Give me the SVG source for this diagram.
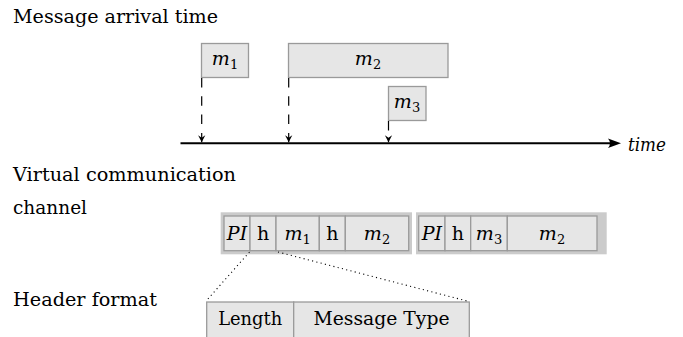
<svg xmlns="http://www.w3.org/2000/svg" width="683" height="337" viewBox="0 0 683 337">
<style>
.t{font-family:"DejaVu Serif","Liberation Serif",serif;font-size:19px;fill:#000}
.it{font-style:italic}
.c{text-anchor:middle}
.s{font-size:13px;font-style:normal}
.box{fill:#e6e6e6;stroke:#9a9a9a;stroke-width:1.3}
.cont{fill:#cbcbcb;stroke:none}
.axis{stroke:#000;stroke-width:2;fill:none}
.dash{stroke:#000;stroke-width:1.2;stroke-dasharray:9.5 8.8;fill:none}
.dot{stroke:#000;stroke-width:1.1;stroke-dasharray:1.1 3.3;fill:none}
</style>
<defs>
<marker id="ah" markerUnits="userSpaceOnUse" markerWidth="12" markerHeight="12" viewBox="-8 -6 10 12" refX="0" refY="0" orient="auto" overflow="visible">
<path d="M0,0 L-7,-3.6 L-4.6,0 L-7,3.6 Z" fill="#000"/>
</marker>
<marker id="ahBig" markerUnits="userSpaceOnUse" markerWidth="16" markerHeight="12" viewBox="-5 -6 16 12" refX="0" refY="0" orient="auto" overflow="visible">
<path d="M9,0 L-4,-4.8 Q0,0 -4,4.8 Z" fill="#000"/>
</marker>
</defs>

<g id="labels">
<text class="t" x="13" y="22.5" textLength="205" lengthAdjust="spacingAndGlyphs">Message arrival time</text>
<text class="t" x="13" y="180.5" textLength="223" lengthAdjust="spacingAndGlyphs">Virtual communication</text>
<text class="t" x="13" y="213.5" textLength="74" lengthAdjust="spacingAndGlyphs">channel</text>
<text class="t" x="13" y="306" textLength="144" lengthAdjust="spacingAndGlyphs">Header format</text>
<text class="t it" x="628" y="151" textLength="38" lengthAdjust="spacingAndGlyphs">time</text>
</g>

<g id="msg-m1">
<rect class="box" x="201.5" y="43.5" width="47" height="34"/>
<text class="t it c" x="225" y="64.5">m<tspan class="s" dy="4">1</tspan></text>
</g>
<g id="msg-m2">
<rect class="box" x="288.5" y="43.5" width="159.5" height="34"/>
<text class="t it c" x="368" y="64.5">m<tspan class="s" dy="4">2</tspan></text>
</g>
<g id="msg-m3">
<rect class="box" x="388.5" y="86.5" width="37.5" height="34"/>
<text class="t it c" x="407" y="107.5">m<tspan class="s" dy="4">3</tspan></text>
</g>

<g id="channel-1">
<rect class="cont" x="220.7" y="212.3" width="191.3" height="42"/>
<rect class="box" x="224" y="216" width="26" height="34.7"/>
<rect class="box" x="250" y="216" width="26" height="34.7"/>
<rect class="box" x="276" y="216" width="43.3" height="34.7"/>
<rect class="box" x="319.3" y="216" width="26" height="34.7"/>
<rect class="box" x="345.3" y="216" width="63.4" height="34.7"/>
<text class="t it c" x="237" y="239.5">PI</text>
<text class="t c" x="263" y="239.5">h</text>
<text class="t it c" x="297.7" y="239.5">m<tspan class="s" dy="4">1</tspan></text>
<text class="t c" x="332.3" y="239.5">h</text>
<text class="t it c" x="377" y="239.5">m<tspan class="s" dy="4">2</tspan></text>
</g>

<g id="channel-2">
<rect class="cont" x="416" y="212.3" width="190.7" height="42"/>
<rect class="box" x="418.7" y="216" width="26.3" height="34.7"/>
<rect class="box" x="445" y="216" width="25.7" height="34.7"/>
<rect class="box" x="470.7" y="216" width="36.6" height="34.7"/>
<rect class="box" x="507.3" y="216" width="89.7" height="34.7"/>
<text class="t it c" x="431.8" y="239.5">PI</text>
<text class="t c" x="457.8" y="239.5">h</text>
<text class="t it c" x="489" y="239.5">m<tspan class="s" dy="4">3</tspan></text>
<text class="t it c" x="552" y="239.5">m<tspan class="s" dy="4">2</tspan></text>
</g>

<g id="header-format">
<rect class="box" x="206.7" y="302" width="87" height="50"/>
<rect class="box" x="293.7" y="302" width="175.6" height="50"/>
<text class="t c" x="250.2" y="324.5" textLength="64" lengthAdjust="spacingAndGlyphs">Length</text>
<text class="t c" x="381.5" y="324.5" textLength="136" lengthAdjust="spacingAndGlyphs">Message Type</text>
</g>

<g id="connectors">
<line class="axis" x1="180.5" y1="143.3" x2="612" y2="143.3" marker-end="url(#ahBig)"/>
<line class="dash" x1="201.7" y1="78" x2="201.7" y2="142.3" marker-end="url(#ah)"/>
<line class="dash" x1="288.7" y1="78" x2="288.7" y2="142.3" marker-end="url(#ah)"/>
<line class="dash" x1="388.5" y1="121" x2="388.5" y2="142.3" marker-end="url(#ah)"/>
<line class="dot" x1="249.5" y1="252" x2="207" y2="300"/>
<line class="dot" x1="278" y1="252" x2="467" y2="301"/>
</g>
</svg>
